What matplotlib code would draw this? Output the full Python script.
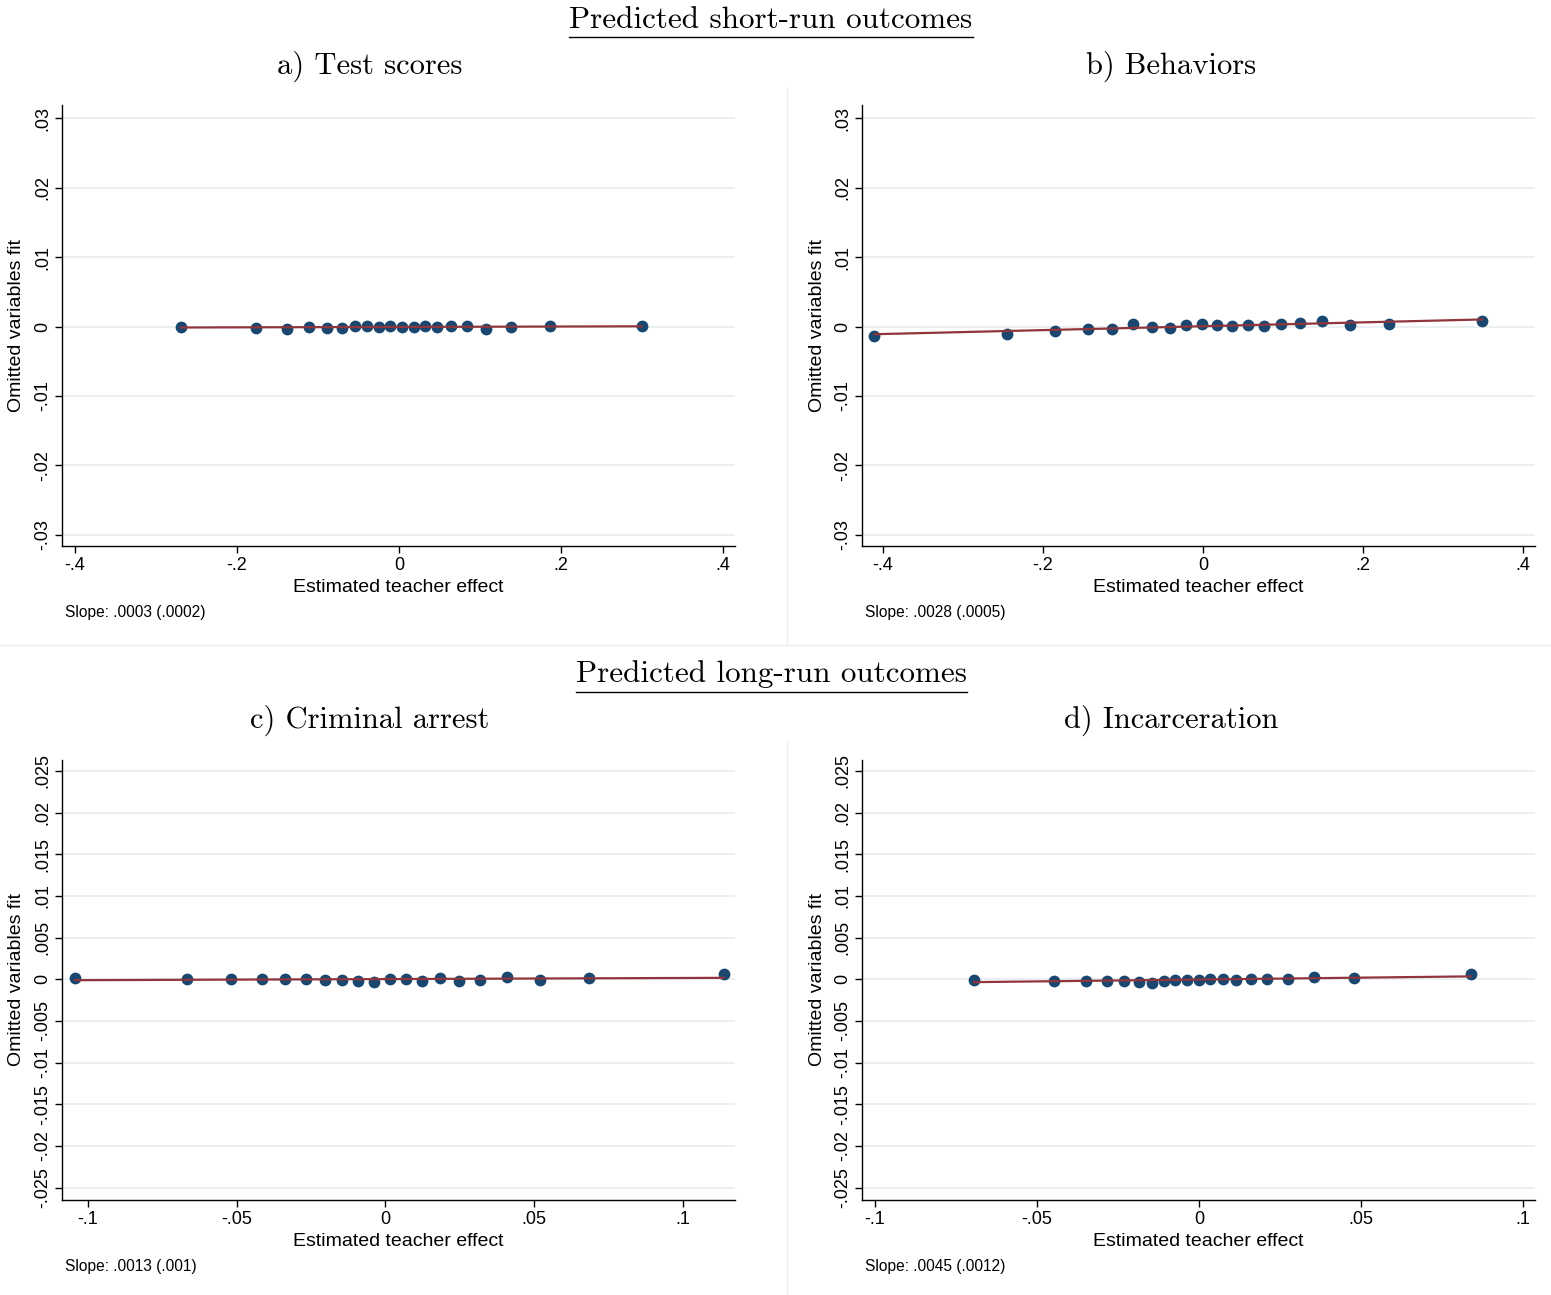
import numpy as np
import matplotlib
matplotlib.use("Agg")
import matplotlib.pyplot as plt
from matplotlib.ticker import FuncFormatter, FixedLocator

# ---------------- data ----------------
a_x = [-0.2695, -0.1765, -0.1380, -0.1105, -0.0886, -0.0706, -0.0540, -0.0393, -0.0250, -0.0109,
       0.0041, 0.0181, 0.0321, 0.0473, 0.0646, 0.0843, 0.1074, 0.1387, 0.1864, 0.2996]
a_y = [0.0, -0.00019, -0.00034, -0.0001, -0.00024, -0.00019, 0.0001, 0.00005, -0.00005, 0.0001,
       -0.0001, -0.0001, 0.00005, 0.0, 0.00005, 0.0001, -0.00038, -0.00005, 0.0001, 0.00005]

b_x = [-0.4104, -0.2450, -0.1850, -0.1441, -0.1134, -0.0875, -0.0638, -0.0416, -0.0213, -0.0016,
       0.0171, 0.0359, 0.0559, 0.0759, 0.0971, 0.1209, 0.1491, 0.1841, 0.2321, 0.3491]
b_y = [-0.00134, -0.00101, -0.00067, -0.00029, -0.00038, 0.00043, 0.0, -0.00019, 0.00019, 0.00043,
       0.00024, 0.00005, 0.00019, 0.00005, 0.00038, 0.00053, 0.00082, 0.00024, 0.00038, 0.00082]

c_x = [-0.1043, -0.0666, -0.0519, -0.0416, -0.0336, -0.0267, -0.0204, -0.0145, -0.0091, -0.0038,
       0.0016, 0.0070, 0.0124, 0.0185, 0.0248, 0.0317, 0.0407, 0.0520, 0.0683, 0.1137]
c_y = [0.0002, 0.0, 0.0, 0.00008, 0.0, 0.00008, -0.00012, -0.00012, -0.00024, -0.00028,
       0.00004, 0.0, -0.00024, 0.00016, -0.0002, -0.00008, 0.00032, -0.00008, 0.00012, 0.0006]

d_x = [-0.0694, -0.0448, -0.0350, -0.0283, -0.0231, -0.0185, -0.0145, -0.0108, -0.0073, -0.0036,
       0.0000, 0.0035, 0.0073, 0.0114, 0.0159, 0.0211, 0.0274, 0.0354, 0.0477, 0.0838]
d_y = [-0.00004, -0.0002, -0.0002, -0.0002, -0.0002, -0.00032, -0.0004, -0.00016, -0.00008, -0.00008,
       -0.00008, 0.00004, 0.00008, -0.00012, 0.0, 0.00004, 0.00004, 0.00024, 0.0002, 0.00057]

titles = ["a) Test scores", "b) Behaviors", "c) Criminal arrest", "d) Incarceration"]
slopes = ["Slope: .0003 (.0002)", "Slope: .0028 (.0005)", "Slope: .0013 (.001)", "Slope: .0045 (.0012)"]
fit_slopes = [0.0003, 0.0028, 0.0013, 0.0045]
sections = ["Predicted short-run outcomes", "Predicted long-run outcomes"]

short_xticks = [-0.4, -0.2, 0, 0.2, 0.4]
long_xticks = [-0.1, -0.05, 0, 0.05, 0.1]
short_yticks = [-0.03, -0.02, -0.01, 0, 0.01, 0.02, 0.03]
long_yticks = [-0.025, -0.02, -0.015, -0.01, -0.005, 0, 0.005, 0.01, 0.015, 0.02, 0.025]

# ---------------- style ----------------
W, H = 1551, 1295
DOT = "#1a476f"
FIT = "#90353b"
GRID = "#e6eef0"
SANS = ["Liberation Sans", "DejaVu Sans"]
SERIF = ["cmr10", "DejaVu Serif"]
plt.rcParams["font.family"] = SANS
plt.rcParams["axes.formatter.use_mathtext"] = False


def stata_fmt(v, pos=None):
    if abs(v) < 1e-12:
        return "0"
    s = ("%.3f" % v).rstrip("0").rstrip(".")
    s = s.replace("0.", ".")
    return s


fig = plt.figure(figsize=(W / 100, H / 100), dpi=100)


def px_axes(l, t, r, b):
    return fig.add_axes([l / W, 1 - b / H, (r - l) / W, (b - t) / H])


panels = [
    (a_x, a_y, (62, 105, 735, 546), (-0.416, 0.415), (-0.0316, 0.0319), short_xticks, short_yticks),
    (b_x, b_y, (862, 105, 1535, 546), (-0.426, 0.415), (-0.0316, 0.0319), short_xticks, short_yticks),
    (c_x, c_y, (62, 760, 735, 1200), (-0.1087, 0.1175), (-0.0265, 0.0263), long_xticks, long_yticks),
    (d_x, d_y, (862, 760, 1535, 1200), (-0.104, 0.1037), (-0.0265, 0.0263), long_xticks, long_yticks),
]

title_cx = [370, 1171, 370, 1171]
title_cy = [66, 66, 720, 720]
slope_y = [613, 613, 1266, 1266]
slope_x = [65, 865, 65, 865]

for i, (xs, ys, box, xl, yl, xt, yt) in enumerate(panels):
    ax = px_axes(*box)
    ax.set_xlim(*xl)
    ax.set_ylim(*yl)
    for s in ["top", "right"]:
        ax.spines[s].set_visible(False)
    for s in ["left", "bottom"]:
        ax.spines[s].set_linewidth(1.0)
        ax.spines[s].set_color("black")
    ax.xaxis.set_major_locator(FixedLocator(xt))
    ax.yaxis.set_major_locator(FixedLocator(yt))
    ax.xaxis.set_major_formatter(FuncFormatter(stata_fmt))
    ax.yaxis.set_major_formatter(FuncFormatter(stata_fmt))
    ax.tick_params(axis="both", direction="out", length=5, width=1, labelsize=13, colors="black")
    ax.tick_params(axis="y", pad=3)
    ax.tick_params(axis="x", pad=3)
    for lab in ax.get_yticklabels():
        lab.set_rotation(90)
        lab.set_va("center")
        lab.set_ha("right")
    ax.yaxis.grid(True, color=GRID, linewidth=1.2)
    ax.set_axisbelow(True)

    ax.scatter(xs, ys, s=72, color=DOT, zorder=3, linewidths=0)
    xa = np.array(xs)
    ya = np.array(ys)
    k = fit_slopes[i]
    c0 = ya.mean() - k * xa.mean()
    xx = np.array([xa.min(), xa.max()])
    ax.plot(xx, c0 + k * xx, color=FIT, linewidth=1.6, zorder=4)

    bh = box[3] - box[1]
    ax.set_xlabel("Estimated teacher effect", fontsize=14)
    ax.xaxis.set_label_coords(0.5, -(579 - 546) / bh)
    ax.xaxis.label.set_va("top")
    ax.set_ylabel("Omitted variables fit", fontsize=14)
    ax.yaxis.set_label_coords(-(62 - 17) / 673, 0.5)
    ax.yaxis.label.set_va("center")

    fig.text(title_cx[i] / W, 1 - title_cy[i] / H, titles[i], family=SERIF, fontsize=22,
             ha="center", va="center")
    fig.text(slope_x[i] / W, 1 - slope_y[i] / H, slopes[i], fontsize=11.2, ha="left", va="center")

# section titles with underline
for j, (cy, uy) in enumerate([(20, 37), (674, 692)]):
    t = fig.text(771 / W, 1 - cy / H, sections[j], family=SERIF, fontsize=22.4, ha="center", va="center")
    fig.canvas.draw()
    bb = t.get_window_extent(renderer=fig.canvas.get_renderer())
    fig.add_artist(plt.Line2D([bb.x0 / W, bb.x1 / W], [1 - uy / H, 1 - uy / H],
                              transform=fig.transFigure, color="black", linewidth=1.0))

# faint separators
sep = "#eeeeee"
fig.add_artist(plt.Line2D([787 / W, 787 / W], [1 - 88 / H, 1 - 645 / H], transform=fig.transFigure, color=sep, lw=1))
fig.add_artist(plt.Line2D([787 / W, 787 / W], [1 - 742 / H, 0], transform=fig.transFigure, color=sep, lw=1))
fig.add_artist(plt.Line2D([0, 1], [1 - 645 / H, 1 - 645 / H], transform=fig.transFigure, color=sep, lw=1))

fig.savefig("out.png", dpi=100, facecolor="white")
